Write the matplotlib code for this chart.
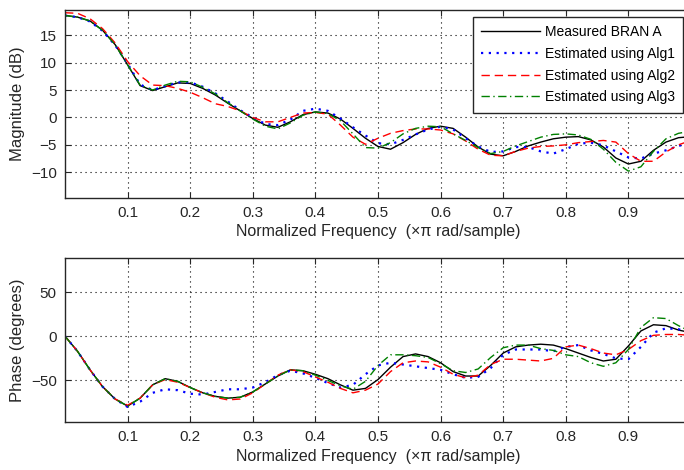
import numpy as np
import matplotlib
matplotlib.use("Agg")
import matplotlib.pyplot as plt

plt.rcParams['font.family'] = ['Liberation Sans', 'DejaVu Sans']

# Normalized frequency grid (x pi rad/sample)
freq = np.arange(51) * 0.02

# Magnitude (dB)
mag_meas = [18.6, 18.3, 17.6, 15.9, 13.3, 9.6, 5.8, 4.9, 5.6, 6.3,
            6.2, 5.3, 4.1, 2.6, 1.2, -0.2, -1.4, -1.8, -0.8, 0.5,
            1.0, 0.8, -0.3, -2.0, -3.8, -5.3, -5.8, -4.6, -3.1, -2.0,
            -1.6, -2.0, -3.6, -5.4, -6.7, -7.0, -6.2, -5.2, -4.5, -3.9,
            -3.6, -3.5, -4.1, -5.4, -7.4, -8.5, -8.0, -6.0, -4.5, -3.7, -3.5]
mag_alg1 = [18.6, 18.3, 17.5, 15.8, 13.2, 9.8, 6.0, 5.0, 5.7, 6.4,
            6.4, 5.6, 4.4, 2.9, 1.3, 0.0, -1.2, -1.4, -0.4, 1.2,
            1.6, 1.2, -0.2, -1.8, -3.3, -4.7, -4.9, -4.1, -3.1, -2.2,
            -1.7, -2.2, -3.8, -5.3, -6.3, -6.2, -5.4, -5.4, -6.2, -6.6,
            -5.8, -4.8, -4.6, -5.1, -6.2, -7.3, -7.5, -6.6, -6.0, -5.2, -4.6]
mag_alg2 = [19.1, 19.0, 18.0, 16.2, 13.6, 10.2, 7.6, 5.9, 5.8, 5.3,
            4.6, 3.6, 2.5, 2.0, 1.2, 0.0, -0.8, -0.8, 0.0, 0.8,
            0.9, 0.6, -1.4, -3.6, -4.9, -3.8, -2.9, -2.4, -2.1, -2.1,
            -2.3, -3.0, -4.3, -5.8, -6.9, -7.0, -6.2, -5.6, -5.3, -5.2,
            -5.0, -4.6, -4.4, -4.2, -4.5, -6.6, -8.0, -8.0, -6.3, -5.0, -4.2]
mag_alg3 = [18.6, 18.3, 17.6, 15.9, 13.3, 9.6, 5.9, 5.0, 5.9, 6.6,
            6.5, 5.5, 4.3, 2.7, 1.2, -0.3, -1.6, -2.1, -1.0, 0.4,
            1.0, 0.7, -0.6, -3.0, -5.5, -5.6, -4.6, -3.0, -2.0, -1.6,
            -1.7, -3.0, -4.2, -5.5, -6.6, -6.2, -5.2, -4.4, -3.6, -3.1,
            -3.0, -3.2, -4.0, -5.8, -8.2, -9.8, -9.0, -6.2, -3.9, -2.9, -2.5]

# Phase (degrees)
ph_meas = [0, -17, -38, -57, -71, -79, -70, -55, -48, -51,
           -58, -64, -68, -70, -69, -63, -54, -45, -38, -39,
           -43, -48, -55, -61, -59, -49, -35, -23, -20, -23,
           -30, -40, -45, -45, -33, -19, -12, -10, -9, -10,
           -14, -19, -24, -28, -26, -11, 6, 13, 12, 7, 4]
ph_alg1 = [0, -17, -38, -57, -71, -80, -74, -64, -60, -61,
           -65, -66, -63, -60, -60, -58, -52, -44, -39, -42,
           -47, -53, -58, -55, -43, -33, -30, -32, -34, -36,
           -38, -43, -47, -46, -36, -21, -15, -15, -15, -17,
           -12, -10, -16, -20, -25, -26, -12, 4, 9, 8, 3]
ph_alg2 = [0, -17, -38, -57, -71, -78, -70, -55, -49, -52,
           -58, -64, -69, -72, -71, -64, -54, -44, -38, -40,
           -46, -52, -59, -64, -61, -54, -40, -30, -28, -29,
           -35, -43, -47, -44, -32, -26, -26, -27, -28, -25,
           -12, -10, -14, -19, -21, -15, -5, 1, 2, 2, 1]
ph_alg3 = [0, -17, -38, -57, -71, -79, -70, -55, -48, -51,
           -58, -64, -68, -70, -69, -63, -54, -45, -38, -39,
           -44, -50, -56, -60, -51, -33, -21, -21, -22, -24,
           -31, -39, -41, -37, -24, -13, -10, -10, -14, -16,
           -21, -23, -30, -34, -30, -15, 10, 21, 20, 12, 5]

labels = ['Measured BRAN A', 'Estimated using Alg1',
          'Estimated using Alg2', 'Estimated using Alg3']
xticks = [0.1, 0.2, 0.3, 0.4, 0.5, 0.6, 0.7, 0.8, 0.9]
xlabel = 'Normalized Frequency  (\u00d7\u03c0 rad/sample)'

styles = [dict(color='black', linestyle='-'),
          dict(color='blue', linestyle=(0, (1, 2.5)), linewidth=1.6),
          dict(color='red', linestyle=(0, (6, 3.5))),
          dict(color='#008000', linestyle=(0, (6, 2.5, 1, 2.5)))]

text_col = '#262626'

fig = plt.figure(figsize=(6.84, 4.70), dpi=100, facecolor='white')
ax1 = fig.add_axes([65 / 684, 1 - 198 / 470, 626 / 684, 188 / 470])
ax2 = fig.add_axes([65 / 684, 1 - 422 / 470, 626 / 684, 164 / 470])


def style_axes(ax):
    ax.set_xlim(0, 1)
    ax.set_xticks(xticks)
    ax.set_xticklabels([f'{t:.1f}' for t in xticks])
    ax.grid(True, color='black', linestyle=(0, (1, 3.5)), linewidth=0.8)
    ax.tick_params(direction='in', length=4, width=0.8, top=True, right=True,
                   labelsize=11, colors=text_col, pad=6)
    for sp in ax.spines.values():
        sp.set_color(text_col)
        sp.set_linewidth(1.0)
    ax.set_xlabel(xlabel, fontsize=11.5, color=text_col, labelpad=3)


for data, lab, st in zip([mag_meas, mag_alg1, mag_alg2, mag_alg3], labels, styles):
    kw = dict(linewidth=1.0)
    kw.update(st)
    ax1.plot(freq, data, label=lab, **kw)
for data, st in zip([ph_meas, ph_alg1, ph_alg2, ph_alg3], styles):
    kw = dict(linewidth=1.0)
    kw.update(st)
    ax2.plot(freq, data, **kw)

style_axes(ax1)
ax1.set_ylim(-14.7, 19.6)
ax1.set_yticks([-10, -5, 0, 5, 10, 15])
ax1.set_ylabel('Magnitude (dB)', fontsize=12, color=text_col, labelpad=4)

style_axes(ax2)
ax2.set_ylim(-97, 88.5)
ax2.set_yticks([-50, 0, 50])
ax2.set_ylabel('Phase (degrees)', fontsize=12, color=text_col, labelpad=4)

leg = ax1.legend(loc='upper right', bbox_to_anchor=(683 / 626 - 65 / 626, 1 - 7 / 188),
                 fontsize=10, handlelength=4.2, labelspacing=0.55,
                 handletextpad=0.35, borderpad=0.6, borderaxespad=0.0,
                 fancybox=False, framealpha=1, edgecolor=text_col)
leg.get_frame().set_linewidth(1.0)

fig.savefig('out.png', dpi=100, facecolor='white')
